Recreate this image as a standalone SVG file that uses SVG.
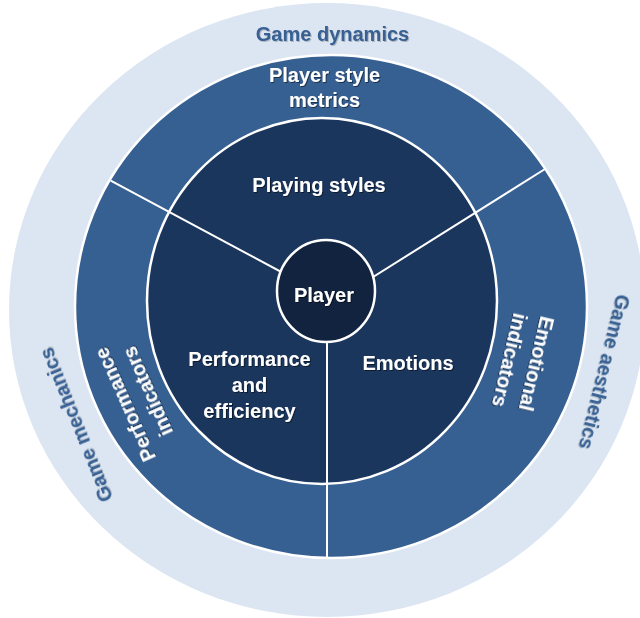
<svg xmlns="http://www.w3.org/2000/svg" width="640" height="618" viewBox="0 0 640 618">
  <defs>
    <filter id="sh" x="-10%" y="-30%" width="120%" height="160%">
      <feDropShadow dx="1" dy="1" stdDeviation="0.7" flood-color="#000000" flood-opacity="0.5"/>
    </filter>
    <filter id="shl" x="-10%" y="-30%" width="120%" height="160%">
      <feDropShadow dx="1" dy="1" stdDeviation="0.7" flood-color="#000000" flood-opacity="0.22"/>
    </filter>
  </defs>
  <style>
    text { font-family: "Liberation Sans", Arial, sans-serif; font-weight: bold; font-size: 20px; text-anchor: middle; }
    .w { fill: #ffffff; filter: url(#sh); }
    .b { fill: #376092; filter: url(#shl); }
    .ring { stroke: #ffffff; stroke-width: 2.5; }
    .div { stroke: #ffffff; stroke-width: 2; fill: none; }
  </style>
  <rect x="0" y="0" width="640" height="618" fill="#ffffff"/>

  <g id="outer-ring">
    <ellipse cx="327" cy="310" rx="318" ry="307" fill="#DCE6F2"/>
  </g>
  <g id="middle-ring">
    <ellipse class="ring" cx="331" cy="306.5" rx="256" ry="251.5" fill="#376092"/>
  </g>
  <g id="inner-ring">
    <ellipse class="ring" cx="322" cy="301" rx="175" ry="183" fill="#1B365D"/>
  </g>

  <g id="connectors">
    <line class="div" x1="110.7" y1="180.7" x2="300" y2="282"/>
    <line class="div" x1="545" y1="169" x2="350" y2="291.5"/>
    <line class="div" x1="327" y1="320" x2="327" y2="558"/>
  </g>

  <g id="player">
    <ellipse class="ring" cx="326" cy="291" rx="49" ry="51" fill="#12233F"/>
    <text class="w" x="324" y="302">Player</text>
  </g>

  <g id="game-dynamics">
    <text class="b" x="332.5" y="41">Game dynamics</text>
  </g>
  <g id="game-mechanics">
    <text class="b" transform="translate(76 425) rotate(-112)" y="7">Game mechanics</text>
  </g>
  <g id="game-aesthetics">
    <text class="b" transform="translate(604.5 372) rotate(104)" y="7">Game aesthetics</text>
  </g>

  <g id="player-style-metrics">
    <text class="w" x="324.5" y="82">Player style</text>
    <text class="w" x="324.5" y="107">metrics</text>
  </g>
  <g id="performance-indicators">
    <text class="w" transform="translate(135.8 396.7) rotate(-114)">
      <tspan x="0" y="-6.5">Performance</tspan>
      <tspan x="0" y="20">indicators</tspan>
    </text>
  </g>
  <g id="emotional-indicators">
    <text class="w" transform="translate(523.3 363.3) rotate(103.3)">
      <tspan x="0" y="-6.5">Emotional</tspan>
      <tspan x="0" y="20.5">indicators</tspan>
    </text>
  </g>

  <g id="playing-styles">
    <text class="w" x="319" y="192">Playing styles</text>
  </g>
  <g id="performance-efficiency">
    <text class="w" x="249.5" y="365.5">Performance</text>
    <text class="w" x="249.5" y="392">and</text>
    <text class="w" x="249.5" y="418">efficiency</text>
  </g>
  <g id="emotions">
    <text class="w" x="408" y="369.5">Emotions</text>
  </g>
</svg>
